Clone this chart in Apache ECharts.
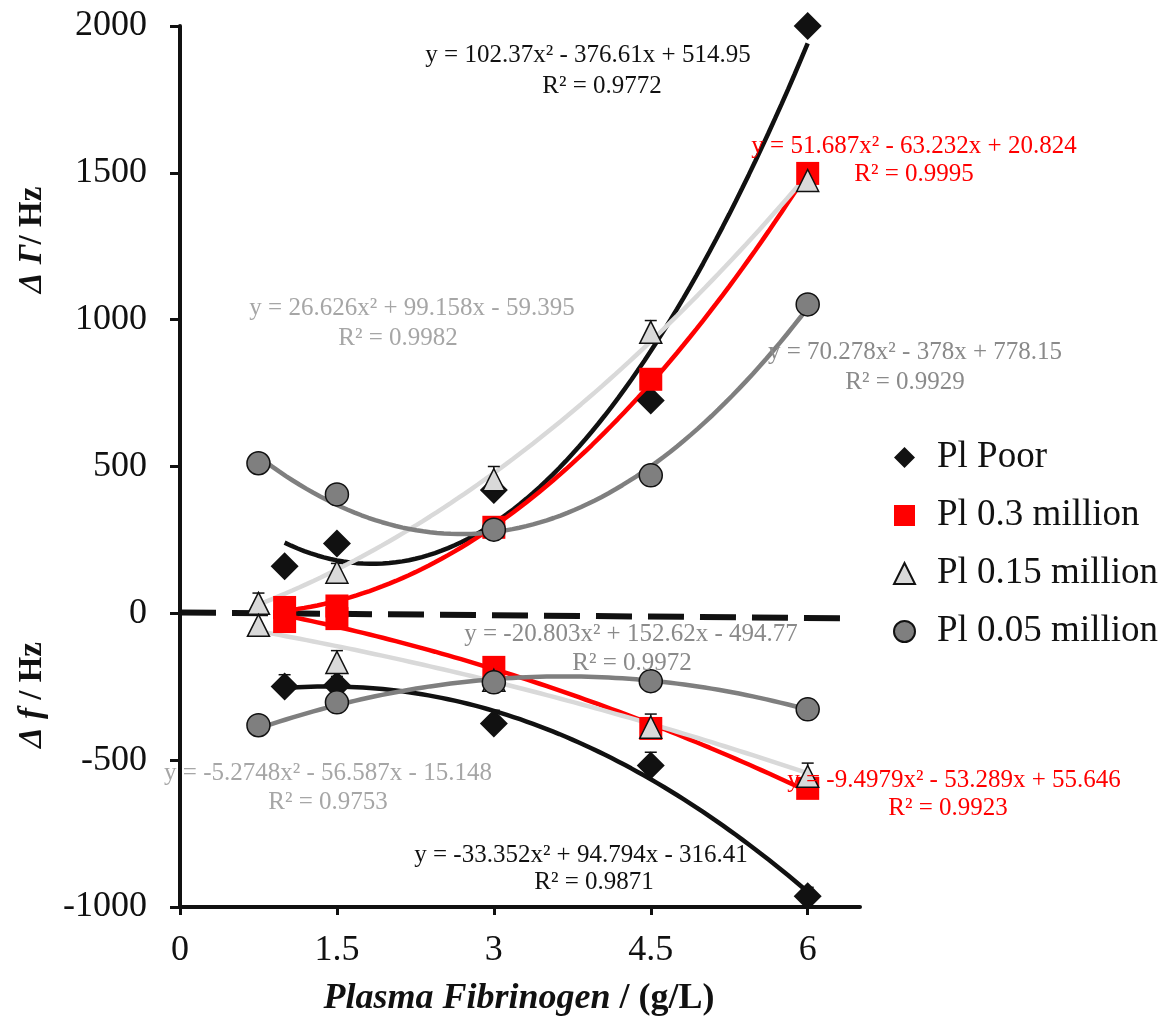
<!DOCTYPE html>
<html>
<head>
<meta charset="utf-8">
<script src="https://cdn.jsdelivr.net/npm/echarts@6/dist/echarts.min.js"></script>
<style>html,body{margin:0;padding:0;background:#fff}#c{width:1159px;height:1021px}</style>
</head>
<body>
<div id="c"></div>
<script>
// ---- data ----
const xPoor = [1, 1.5, 3, 4.5, 6];
const xP03  = [1, 1.5, 3, 4.5, 6];
const xP015 = [0.75, 1.5, 3, 4.5, 6];
const xP005 = [0.75, 1.5, 3, 4.5, 6];

// ΔΓ (upper branch)
const poorUp = [160, 238, 420, 725, 2000];
const p03Up  = [20, 25, 293, 797, 1498];
const p015Up = [34, 140, 455, 957, 1474];
const p005Up = [511, 405, 285, 470, 1052];

// Δf (lower branch)
const poorLow = [-249, -245, -375, -518, -963];
const p03Low  = [-28, -18, -184, -392, -596];
const p015Low = [-41, -167, -228, -388, -555];
const p005Low = [-381, -303, -235, -231, -327];

// error bar (plus) sizes
const errP015Up  = [35, 30, 45, 40, 40];
const errP015Low = [35, 40, 0, 45, 45];
const errPoorLow = [40, 30, 45, 45, 30];

// trendline coefficients (a, b, c) as printed on the chart
const fitPoorUp  = [102.37, -376.61, 514.95];
const fitP03Up   = [51.687, -63.232, 20.824];
const fitP015Up  = [26.626, 99.158, -59.395];
const fitP005Up  = [70.278, -378, 778.15];
const fitPoorLow = [-33.352, 94.794, -316.41];
const fitP03Low  = [-9.4979, -53.289, 55.646];
const fitP015Low = [-5.2748, -56.587, -15.148];
const fitP005Low = [-20.803, 152.62, -494.77];

const seriesNames = ['Pl Poor', 'Pl 0.3 million', 'Pl 0.15 million', 'Pl 0.05 million'];
const xTicks = [0, 1.5, 3, 4.5, 6];

const eqTexts = [
  ['y = 102.37x² - 376.61x + 514.95', 'R² = 0.9772'],
  ['y = 51.687x² - 63.232x + 20.824', 'R² = 0.9995'],
  ['y = 26.626x² + 99.158x - 59.395', 'R² = 0.9982'],
  ['y = 70.278x² - 378x + 778.15', 'R² = 0.9929'],
  ['y = -20.803x² + 152.62x - 494.77', 'R² = 0.9972'],
  ['y = -5.2748x² - 56.587x - 15.148', 'R² = 0.9753'],
  ['y = -9.4979x² - 53.289x + 55.646', 'R² = 0.9923'],
  ['y = -33.352x² + 94.794x - 316.41', 'R² = 0.9871']
];

// ---- styling / layout ----
const FONT = 'Liberation Serif';
const BLACK = '#111111', RED = '#ff0000', LGRAY = '#d9d9d9', GRAY = '#7f7f7f';
const LGRAY_TXT = '#a6a6a6', GRAY_TXT = '#8a8a8a';

function pairs(xs, ys) { return xs.map((x, i) => [x, ys[i]]); }
function fitCurve(c, x0, x1) {
  const pts = [];
  const n = 80;
  for (let i = 0; i <= n; i++) {
    const x = x0 + (x1 - x0) * i / n;
    pts.push([x, c[0] * x * x + c[1] * x + c[2]]);
  }
  return pts;
}
function trend(name, c, xs, color) {
  return {
    name: name, type: 'line', data: fitCurve(c, xs[0], xs[xs.length - 1]),
    showSymbol: false, symbol: 'none', silent: true, z: 2,
    lineStyle: { color: color, width: 4.5 }
  };
}
function scatter(name, xs, ys, symbol, size, color, border) {
  return {
    name: name, type: 'scatter', data: pairs(xs, ys), symbol: symbol, symbolSize: size, z: 4,
    itemStyle: { color: color, borderColor: border || color, borderWidth: border ? 1.5 : 0, opacity: 1 }
  };
}
function errBars(xs, ys, es) {
  return {
    type: 'custom', z: 3, silent: true,
    data: xs.map((x, i) => [x, ys[i], es[i]]),
    renderItem: function (params, api) {
      const x = api.value(0), y = api.value(1), e = api.value(2);
      if (!e) return null;
      const p0 = api.coord([x, y]);
      const p1 = api.coord([x, y + e]);
      const st = { stroke: BLACK, lineWidth: 1.5 };
      return {
        type: 'group', children: [
          { type: 'line', shape: { x1: p0[0], y1: p0[1], x2: p1[0], y2: p1[1] }, style: st },
          { type: 'line', shape: { x1: p1[0] - 6, y1: p1[1], x2: p1[0] + 6, y2: p1[1] }, style: st }
        ]
      };
    }
  };
}

const eqPos = [
  [588, 55, 602, 86, BLACK],
  [914, 146, 914, 174, RED],
  [412, 308, 398, 338, LGRAY_TXT],
  [915, 352, 905, 382, GRAY_TXT],
  [631, 634, 632, 663, GRAY_TXT],
  [328, 773, 328, 802, LGRAY_TXT],
  [954, 780, 948, 808, RED],
  [581, 855, 594, 882, BLACK]
];
const EQ_FONT = '25px "' + FONT + '"';
const graphics = [];
eqTexts.forEach((t, i) => {
  const p = eqPos[i];
  graphics.push({ type: 'text', x: p[0], y: p[1], z: 50,
    style: { text: t[0], fill: p[4], font: EQ_FONT, align: 'center', verticalAlign: 'middle' } });
  graphics.push({ type: 'text', x: p[2], y: p[3], z: 50,
    style: { text: t[1], fill: p[4], font: EQ_FONT, align: 'center', verticalAlign: 'middle' } });
});
const titleRich = {
  a: { fontFamily: FONT, fontSize: 33, fontWeight: 'bold', fontStyle: 'italic', fill: BLACK },
  b: { fontFamily: FONT, fontSize: 33, fontWeight: 'bold', fill: BLACK }
};
graphics.push({ type: 'text', x: 32, y: 240, rotation: Math.PI / 2, z: 50,
  style: { text: '{a|Δ Γ}{b|/ Hz}', rich: titleRich, align: 'center', verticalAlign: 'middle' } });
graphics.push({ type: 'text', x: 32, y: 695, rotation: Math.PI / 2, z: 50,
  style: { text: '{a|Δ f }{b|/ Hz}', rich: titleRich, align: 'center', verticalAlign: 'middle' } });
graphics.push({ type: 'text', x: 519, y: 999, z: 50,
  style: { text: '{a|Plasma Fibrinogen }{b|/ (g/L)}', align: 'center', verticalAlign: 'middle',
    rich: {
      a: { fontFamily: FONT, fontSize: 36, fontWeight: 'bold', fontStyle: 'italic', fill: BLACK },
      b: { fontFamily: FONT, fontSize: 36, fontWeight: 'bold', fill: BLACK }
    } } });

const series = [
  // zero reference line
  { name: 'zero', type: 'line', data: [[0, 3], [6.4, -17]], showSymbol: false, symbol: 'none', silent: true, z: 1,
    lineStyle: { color: BLACK, width: 6, type: [36, 16] } },
  trend('t1', fitPoorUp, xPoor, BLACK),
  trend('t2', fitP03Up, xP03, RED),
  trend('t3', fitP015Up, xP015, LGRAY),
  trend('t4', fitP005Up, xP005, GRAY),
  trend('t5', fitPoorLow, xPoor, BLACK),
  trend('t6', fitP03Low, xP03, RED),
  trend('t7', fitP015Low, xP015, LGRAY),
  trend('t8', fitP005Low, xP005, GRAY),
  errBars(xP015, p015Up, errP015Up),
  errBars(xP015, p015Low, errP015Low),
  errBars(xPoor, poorLow, errPoorLow),
  scatter(seriesNames[0], xPoor, poorUp, 'diamond', 28, BLACK),
  scatter(seriesNames[0], xPoor, poorLow, 'diamond', 28, BLACK),
  scatter(seriesNames[1], xP03, p03Up, 'rect', 23, RED),
  scatter(seriesNames[1], xP03, p03Low, 'rect', 23, RED),
  scatter(seriesNames[2], xP015, p015Up, 'triangle', 22, LGRAY, BLACK),
  scatter(seriesNames[2], xP015, p015Low, 'triangle', 22, LGRAY, BLACK),
  scatter(seriesNames[3], xP005, p005Up, 'circle', 23, GRAY, BLACK),
  scatter(seriesNames[3], xP005, p005Low, 'circle', 23, GRAY, BLACK)
];

const chart = echarts.init(document.getElementById('c'), null, { renderer: 'canvas' });
chart.setOption({
  backgroundColor: '#ffffff',
  animation: false,
  textStyle: { fontFamily: FONT },
  grid: { left: 180, right: 299, top: 26, bottom: 114, containLabel: false },
  legend: {
    orient: 'vertical', left: 888, top: 434, itemGap: 21, itemWidth: 21, itemHeight: 21,
    selectedMode: false,
    data: [
      { name: seriesNames[0], icon: 'diamond' },
      { name: seriesNames[1], icon: 'rect' },
      { name: seriesNames[2], icon: 'triangle' },
      { name: seriesNames[3], icon: 'circle' }
    ],
    textStyle: { fontFamily: FONT, fontSize: 37, color: BLACK, padding: [0, 0, 0, 17] }
  },
  xAxis: {
    type: 'value', min: 0, max: 6.5,
    axisLine: { onZero: false, lineStyle: { color: BLACK, width: 4 } },
    axisTick: { show: true, length: 8, lineStyle: { color: BLACK, width: 3 }, customValues: xTicks },
    axisLabel: { customValues: xTicks, margin: 26, fontFamily: FONT, fontSize: 36, color: BLACK,
      formatter: function (v) { return String(v); } },
    splitLine: { show: false }
  },
  yAxis: {
    type: 'value', min: -1000, max: 2000, interval: 500,
    axisLine: { show: true, onZero: false, lineStyle: { color: BLACK, width: 4 } },
    axisTick: { show: true, length: 10, lineStyle: { color: BLACK, width: 3 } },
    axisLabel: { margin: 33, fontFamily: FONT, fontSize: 36, color: BLACK,
      formatter: function (v) { return String(v); } },
    splitLine: { show: false }
  },
  graphic: graphics,
  series: series
});
</script>
</body>
</html>
